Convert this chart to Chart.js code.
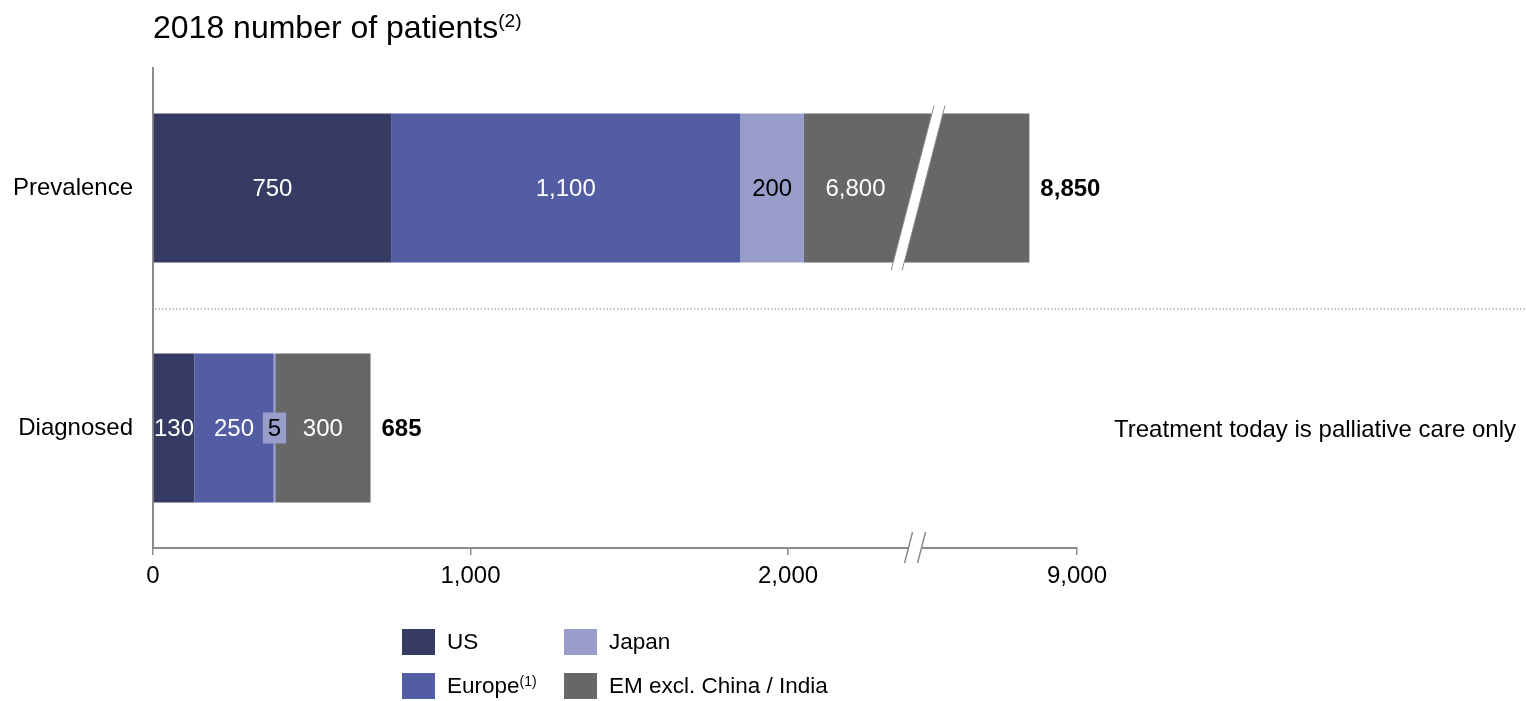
<!DOCTYPE html>
<html lang="en">
  <head>
    <meta charset="UTF-8">
    <title>2018 number of patients</title>
    <script src="https://cdn.jsdelivr.net/npm/chart.js@4.4.1/dist/chart.umd.min.js"></script>
    <style>
      body { margin: 0; background: #fff; font-family: "Liberation Sans", Arial, sans-serif; color: #000; }
      #wrap { position: relative; width: 1526px; height: 701px; overflow: hidden; }
      #chart { position: absolute; left: 0; top: 0; }
      .txt { position: absolute; white-space: nowrap; line-height: 1; }
      .txt sup { font-size: 0.6em; vertical-align: 0.55em; line-height: 0; }
      .key { position: absolute; display: flex; align-items: center; font-size: 22.5px; white-space: nowrap; }
      .key i { display: inline-block; width: 33px; height: 26px; margin-right: 12px; }
      .key sup { font-size: 0.62em; vertical-align: 0.5em; line-height: 0; }
    </style>
  </head>
  <body>
    <div id="wrap">
      <canvas id="chart" width="1526" height="701"></canvas>
      <div class="txt" style="left:153px; top:11px; font-size:32px;">2018 number of patients<sup>(2)</sup></div>
      <div class="txt" style="left:1114px; top:417px; font-size:24px;">Treatment today is palliative care only</div>
      <div id="legend"></div>
    </div>
    <script>
    const categories = ['Prevalence', 'Diagnosed'];
    const regions = ['US', 'Europe', 'Japan', 'EM excl. China / India'];
    const usPatients = [750, 130];
    const europePatients = [1100, 250];
    const japanPatients = [200, 5];
    const emPatients = [6800, 300];
    const totals = [8850, 685];
    const tickValues = [0, 1000, 2000, 9000];
    const colors = ['#363b64', '#525da4', '#999dc9', '#666769'];
    const labelColors = ['#fff', '#fff', '#000', '#fff'];

    // axis is cut: values above the break are shifted left
    const breakAt = 2400;
    const breakShift = 6090;
    function toAxis(v) {
      return v <= breakAt ? v : v - breakShift;
    }
    function fmt(v) {
      return v.toLocaleString('en-US');
    }

    const series = [usPatients, europePatients, japanPatients, emPatients];
    const starts = categories.map(() => 0);
    const datasets = series.map((values, i) => {
      const data = values.map((v, j) => {
        const from = starts[j];
        starts[j] += v;
        return [toAxis(from), toAxis(starts[j])];
      });
      return {
        label: regions[i],
        data: data,
        backgroundColor: colors[i],
        borderWidth: 0,
        grouped: false,
        barPercentage: 0.62,
        categoryPercentage: 1
      };
    });

    const GRAY = '#8c8c8c';
    const FONT = '"Liberation Sans", Arial, sans-serif';

    const decor = {
      id: 'decor',
      beforeDatasetsDraw(chart) {
        const ctx = chart.ctx;
        const y = chart.scales.y;
        const mid = (y.getPixelForValue(0) + y.getPixelForValue(1)) / 2;
        ctx.save();
        ctx.strokeStyle = '#888';
        ctx.lineWidth = 1;
        ctx.setLineDash([1.5, 2]);
        ctx.beginPath();
        ctx.moveTo(chart.chartArea.left + 2, mid + 1);
        ctx.lineTo(chart.width, mid + 1);
        ctx.stroke();
        ctx.restore();
      },
      afterDatasetsDraw(chart) {
        const ctx = chart.ctx;
        const xs = chart.scales.x;
        const bx = xs.getPixelForValue(breakAt);
        ctx.save();

        // break across any bar that crosses it
        chart.data.datasets.forEach((ds, i) => {
          chart.getDatasetMeta(i).data.forEach((bar, j) => {
            const lo = Math.min(bar.base, bar.x), hi = Math.max(bar.base, bar.x);
            if (lo < bx && hi > bx) {
              const top = bar.y - bar.height / 2 - 8;
              const bot = bar.y + bar.height / 2 + 8;
              const k = 0.26, w = 5.5, cx = bx + 3;
              const xt = cx + (bar.y - top) * k, xb = cx - (bot - bar.y) * k;
              ctx.fillStyle = '#fff';
              ctx.beginPath();
              ctx.moveTo(xt - w, top); ctx.lineTo(xt + w, top);
              ctx.lineTo(xb + w, bot); ctx.lineTo(xb - w, bot);
              ctx.closePath();
              ctx.fill();
              ctx.strokeStyle = GRAY;
              ctx.lineWidth = 1;
              ctx.beginPath();
              ctx.moveTo(xt - w, top); ctx.lineTo(xb - w, bot);
              ctx.moveTo(xt + w, top); ctx.lineTo(xb + w, bot);
              ctx.stroke();
            }
          });
        });

        // segment labels
        ctx.font = '24px ' + FONT;
        ctx.textAlign = 'center';
        ctx.textBaseline = 'middle';
        chart.data.datasets.forEach((ds, i) => {
          chart.getDatasetMeta(i).data.forEach((bar, j) => {
            const lo = Math.min(bar.base, bar.x);
            let hi = Math.max(bar.base, bar.x);
            if (lo < bx && hi > bx) hi = bx - 8;
            const text = fmt(series[i][j]);
            const tw = ctx.measureText(text).width;
            const cx = (lo + hi) / 2;
            if (hi - lo < tw / 2) {
              ctx.fillStyle = colors[i];
              ctx.fillRect(cx - tw / 2 - 5, bar.y - 15.5, tw + 10, 31);
            }
            ctx.fillStyle = labelColors[i];
            ctx.fillText(text, cx, bar.y + 1);
          });
        });

        // totals
        const last = chart.getDatasetMeta(series.length - 1).data;
        ctx.font = 'bold 24px ' + FONT;
        ctx.textAlign = 'left';
        ctx.fillStyle = '#000';
        last.forEach((bar, j) => {
          ctx.fillText(fmt(totals[j]), Math.max(bar.x, bar.base) + 11, bar.y + 1);
        });
        ctx.restore();
      },
      afterDraw(chart) {
        // break marks on the x axis
        const ctx = chart.ctx;
        const xs = chart.scales.x;
        const bx = xs.getPixelForValue(breakAt);
        const ay = chart.chartArea.bottom;
        ctx.save();
        ctx.fillStyle = '#fff';
        ctx.fillRect(bx - 6, ay - 3, 13, 6);
        ctx.strokeStyle = GRAY;
        ctx.lineWidth = 1.5;
        ctx.beginPath();
        [-6.5, 6.5].forEach(off => {
          ctx.moveTo(bx + off + 4, ay - 16);
          ctx.lineTo(bx + off - 4, ay + 15);
        });
        ctx.stroke();
        ctx.restore();
      }
    };

    new Chart(document.getElementById('chart'), {
      type: 'bar',
      data: { labels: categories, datasets: datasets },
      options: {
        indexAxis: 'y',
        responsive: false,
        animation: false,
        layout: { padding: { top: 68, right: 449, bottom: 0, left: 0 } },
        plugins: { legend: { display: false }, tooltip: { enabled: false } },
        scales: {
          x: {
            type: 'linear',
            min: 0,
            max: toAxis(tickValues[tickValues.length - 1]),
            afterBuildTicks: scale => {
              scale.ticks = tickValues.map(v => ({ value: toAxis(v) }));
            },
            afterFit: scale => { scale.height = 153; },
            grid: { display: true, drawOnChartArea: false, drawTicks: true, tickLength: 7, color: GRAY, lineWidth: 1.5 },
            border: { display: true, color: GRAY, width: 2 },
            ticks: {
              color: '#000',
              font: { size: 24 },
              padding: 7,
              maxRotation: 0,
              autoSkip: false,
              callback: v => fmt(v > breakAt ? v + breakShift : v)
            }
          },
          y: {
            type: 'category',
            afterFit: scale => { scale.width = 153; },
            grid: { display: false, drawTicks: false },
            border: { display: true, color: GRAY, width: 2 },
            ticks: { color: '#000', font: { size: 24 }, padding: 20 }
          }
        }
      },
      plugins: [decor]
    });

    // legend, two columns
    const legendPos = [[402, 629], [402, 673], [564, 629], [564, 673]];
    const legendText = ['US', 'Europe<sup>(1)</sup>', 'Japan', 'EM excl. China / India'];
    const legend = document.getElementById('legend');
    regions.forEach((r, i) => {
      const d = document.createElement('div');
      d.className = 'key';
      d.style.left = legendPos[i][0] + 'px';
      d.style.top = legendPos[i][1] + 'px';
      d.innerHTML = '<i style="background:' + colors[i] + '"></i><span>' + legendText[i] + '</span>';
      legend.appendChild(d);
    });
    </script>
  </body>
</html>
